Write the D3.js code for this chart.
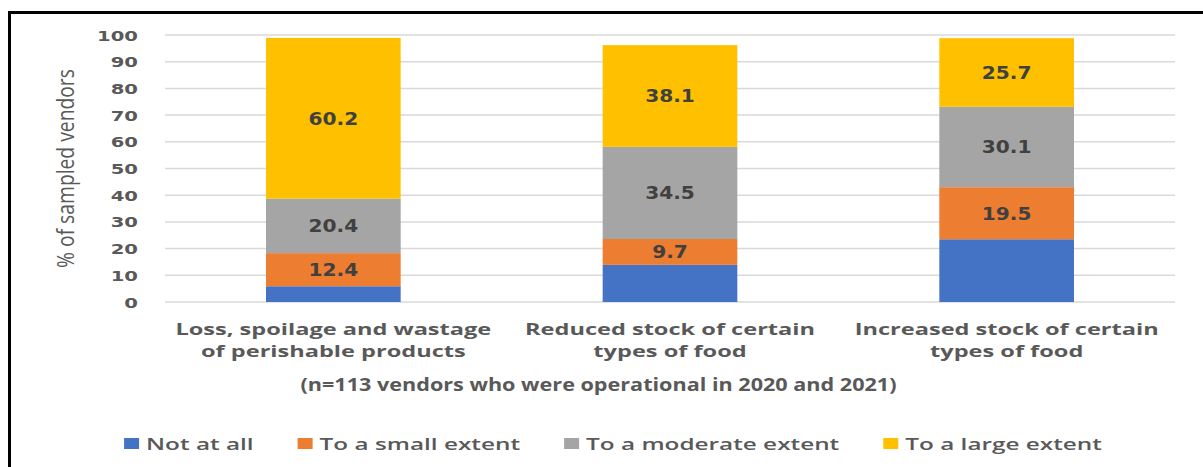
<!DOCTYPE html>
<html>
<head>
<meta charset="utf-8">
<script src="https://cdn.jsdelivr.net/npm/d3@7/dist/d3.min.js"></script>
<style>
  html, body { margin: 0; padding: 0; background: #fff; }
  svg { display: block; }
</style>
</head>
<body>
<svg id="chart" width="1203" height="467"></svg>
<script>
// Impact categories (two-line axis labels)
const categories = [
  ["Loss, spoilage and wastage", "of perishable products"],
  ["Reduced stock of certain", "types of food"],
  ["Increased stock of certain", "types of food"]
];
const seriesNames = ["Not at all", "To a small extent", "To a moderate extent", "To a large extent"];
const notAtAll = [5.9, 13.9, 23.5];
const smallExtent = [12.4, 9.7, 19.5];
const moderateExtent = [20.4, 34.5, 30.1];
const largeExtent = [60.2, 38.1, 25.7];
const labelledSeries = [false, true, true, true];
const yTicks = [0, 10, 20, 30, 40, 50, 60, 70, 80, 90, 100];
const yTitle = "% of sampled vendors";
const note = "(n=113 vendors who were operational in 2020 and 2021)";

const colors = ["#4472C4", "#ED7D31", "#A5A5A5", "#FFC000"];

const svg = d3.select("#chart");
svg.append("rect").attr("width", 1203).attr("height", 467).attr("fill", "#fff");

// Frame
svg.append("path")
  .attr("d", "M9.5,467V12.5H1203")
  .attr("fill", "none").attr("stroke", "#000").attr("stroke-width", 3);

const plot = { left: 165, right: 1175, top: 35, bottom: 302 };
const keys = categories.map((c, i) => i);
const x = d3.scaleBand().domain(keys).range([plot.left, plot.right]).paddingInner(0.6).paddingOuter(0.3);
const y = d3.scaleLinear().domain([0, 100]).range([plot.bottom, plot.top]);

// Horizontal text stretch helper
function place(sel, px, py, sx) {
  sel.attr("transform", `translate(${px},${py}) scale(${sx},1)`);
  return sel;
}

// Gridlines
svg.append("g").selectAll("line").data(yTicks).join("line")
  .attr("x1", plot.left).attr("x2", plot.right)
  .attr("y1", d => y(d)).attr("y2", d => y(d))
  .attr("stroke", "#d9d9d9").attr("stroke-width", 1.5);

// Y axis tick labels
const yAxis = d3.axisLeft(y).tickValues(yTicks).tickSize(0).tickPadding(0);
const yg = svg.append("g").attr("transform", `translate(138,0)`).call(yAxis);
yg.select(".domain").remove();
yg.selectAll("text")
  .attr("font-family", "DejaVu Sans").attr("font-weight", "bold")
  .attr("font-size", 14).attr("fill", "#595959")
  .attr("dy", "0.36em")
  .attr("x", 0)
  .attr("transform", "scale(1.4,1)");

// Y axis title
svg.append("text")
  .attr("transform", "translate(74,168.5) scale(1.2,1) rotate(-90)")
  .attr("text-anchor", "middle")
  .attr("font-family", "Open Sans").attr("font-size", 19.3)
  .attr("fill", "#595959")
  .text(yTitle);

// Stacked bars
const rows = keys.map(i => ({
  i,
  s0: notAtAll[i], s1: smallExtent[i], s2: moderateExtent[i], s3: largeExtent[i]
}));
const stack = d3.stack().keys(["s0", "s1", "s2", "s3"]);
const layers = stack(rows);

const lg = svg.append("g").selectAll("g").data(layers).join("g")
  .attr("fill", (d, k) => colors[k]);
lg.selectAll("rect").data(d => d).join("rect")
  .attr("x", d => x(d.data.i))
  .attr("width", x.bandwidth())
  .attr("y", d => y(d[1]))
  .attr("height", d => y(d[0]) - y(d[1]));

// Data labels
layers.forEach((layer, k) => {
  if (!labelledSeries[k]) return;
  layer.forEach(d => {
    const v = d[1] - d[0];
    const t = svg.append("text")
      .attr("text-anchor", "middle").attr("dy", "0.36em")
      .attr("font-family", "DejaVu Sans").attr("font-weight", "bold")
      .attr("font-size", 18).attr("fill", "#404040")
      .text(v.toFixed(1));
    place(t, x(d.data.i) + x.bandwidth() / 2, y((d[0] + d[1]) / 2), 1.12);
  });
});

// Category labels
categories.forEach((lines, i) => {
  lines.forEach((line, j) => {
    const t = svg.append("text")
      .attr("text-anchor", "middle")
      .attr("font-family", "Open Sans").attr("font-weight", "bold")
      .attr("font-size", 15.5).attr("fill", "#595959")
      .text(line);
    place(t, x(i) + x.bandwidth() / 2, 335 + j * 22, 1.52);
  });
});

// Sample-size note
place(svg.append("text")
  .attr("text-anchor", "middle")
  .attr("font-family", "Open Sans").attr("font-weight", "bold")
  .attr("font-size", 18).attr("fill", "#595959")
  .text(note), 598.5, 391, 1.2);

// Legend
const legendSX = 1.52, sq = { w: 15, h: 11 }, gapText = 7, gapItem = 44;
const legend = svg.append("g");
const items = seriesNames.map((name, k) => {
  const t = legend.append("text")
    .attr("font-family", "Open Sans").attr("font-weight", "600")
    .attr("font-size", 16).attr("fill", "#595959")
    .text(name);
  return { t, k, w: t.node().getComputedTextLength() * legendSX };
});
const total = d3.sum(items, d => sq.w + gapText + d.w) + gapItem * (items.length - 1);
let cx = 613 - total / 2;
items.forEach(d => {
  legend.append("rect")
    .attr("x", cx).attr("y", 438).attr("width", sq.w).attr("height", sq.h)
    .attr("fill", colors[d.k]);
  place(d.t, cx + sq.w + gapText, 449.5, legendSX);
  cx += sq.w + gapText + d.w + gapItem;
});
</script>
</body>
</html>
